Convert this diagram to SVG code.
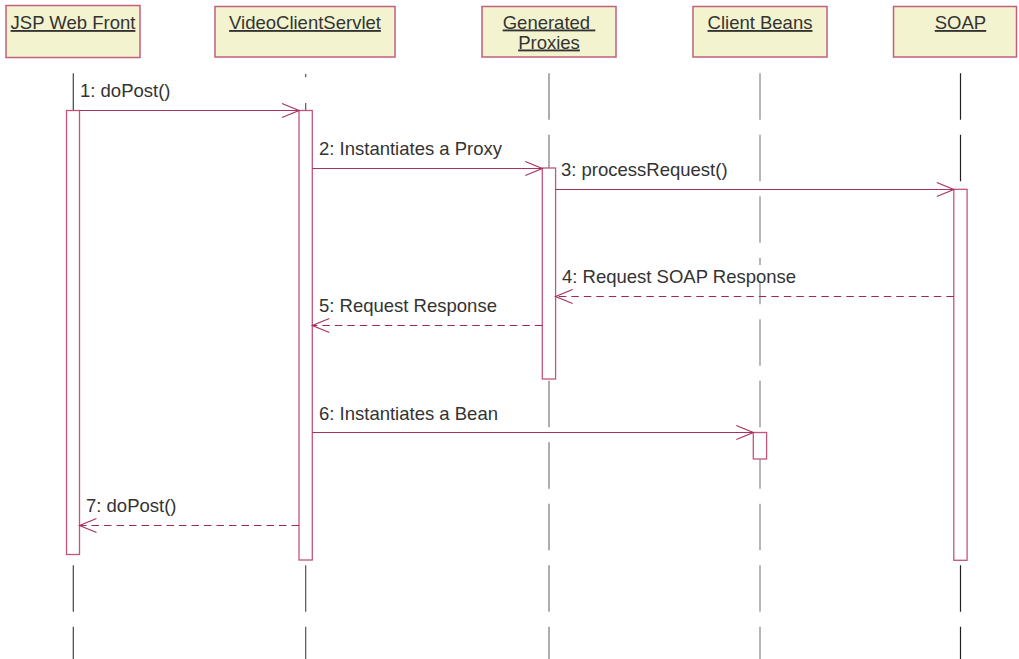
<svg xmlns="http://www.w3.org/2000/svg" width="1019" height="659" viewBox="0 0 1019 659">
<defs>
<style>
.box{fill:#f3f3d0;stroke:#c0607c;stroke-width:1.5}
.hdr text{font-family:"Liberation Sans",Arial,sans-serif;font-size:18.5px;fill:#333;text-anchor:middle;text-decoration:underline}
.life{stroke-width:1.2;stroke-dasharray:46.5 15;fill:none}
.act{fill:#fff;stroke:#c4547e;stroke-width:1.3}
.msg{stroke:#a8335f;stroke-width:1.2;fill:none;marker-end:url(#open)}
.dash{stroke-dasharray:7.5 5;stroke:#9c2a58}
.lbl{font-family:"Liberation Sans",Arial,sans-serif;font-size:18.5px;fill:#333}
.bg{fill:#fff}
</style>
<marker id="open" viewBox="-19 -9 21 18" markerWidth="21" markerHeight="18" refX="0" refY="0" orient="auto" markerUnits="userSpaceOnUse">
<path d="M-17,-7 L0,0 L-17,7" fill="none" stroke="#a8335f" stroke-width="1.2"/>
</marker>
<clipPath id="vcsclip"><rect x="290" y="103" width="30" height="560"/></clipPath>
</defs>
<rect width="1019" height="659" fill="#fff"/>

<g id="lifelines">
<line class="life" x1="73.3" y1="73.3" x2="73.3" y2="659" stroke="#444"/>
<line x1="305.7" y1="74" x2="305.7" y2="77.3" stroke="#555" stroke-width="1.2"/>
<line class="life" x1="305.7" y1="73.3" x2="305.7" y2="659" stroke="#555" clip-path="url(#vcsclip)"/>
<line class="life" x1="549" y1="73.3" x2="549" y2="659" stroke="#777"/>
<line class="life" x1="760" y1="73.3" x2="760" y2="659" stroke="#888"/>
<line class="life" x1="960.5" y1="73.3" x2="960.5" y2="659" stroke="#222"/>
</g>

<g id="jsp" class="hdr">
<rect class="box" x="6" y="5.5" width="134" height="52"/>
<text x="73" y="29">JSP Web Front</text>
<rect class="act" x="66.5" y="110.5" width="13" height="444"/>
</g>
<g id="servlet" class="hdr">
<rect class="box" x="215" y="6.5" width="180" height="50.5"/>
<text x="305" y="29">VideoClientServlet</text>
<rect class="act" x="299" y="110.5" width="13.3" height="449.5"/>
</g>
<g id="proxies" class="hdr">
<rect class="box" x="482" y="6.5" width="134" height="50.5"/>
<text x="549" y="28.5" xml:space="preserve">Generated </text>
<text x="549" y="48.5">Proxies</text>
<rect class="act" x="542.3" y="168" width="13.3" height="211"/>
</g>
<g id="beans" class="hdr">
<rect class="box" x="693" y="6.5" width="134" height="50.5"/>
<text x="760" y="29">Client Beans</text>
<rect class="act" x="753.3" y="432.5" width="13.3" height="26.5"/>
</g>
<g id="soap" class="hdr">
<rect class="box" x="893.5" y="6.5" width="123" height="50.5"/>
<text x="960.5" y="29">SOAP</text>
<rect class="act" x="953.8" y="189.3" width="13.3" height="371"/>
</g>

<g id="connectors">
<line class="msg" x1="79.5" y1="110.5" x2="299" y2="110.5"/>
<line class="msg" x1="312.3" y1="168.5" x2="542.3" y2="168.5"/>
<line class="msg" x1="555.6" y1="189.5" x2="953.8" y2="189.5"/>
<rect class="bg" x="560" y="265" width="240" height="16.7"/>
<line class="msg dash" x1="953.8" y1="296.5" x2="555.6" y2="296.5"/>
<line class="msg dash" x1="542.3" y1="325.5" x2="312.3" y2="325.5"/>
<line class="msg" x1="312.3" y1="432.5" x2="753.3" y2="432.5"/>
<line class="msg dash" x1="299" y1="525.5" x2="79.5" y2="525.5"/>
</g>

<g id="labels">
<text class="lbl" x="80" y="96.5">1: doPost()</text>
<text class="lbl" x="319" y="155">2: Instantiates a Proxy</text>
<text class="lbl" x="561" y="176">3: processRequest()</text>
<text class="lbl" x="562" y="283">4: Request SOAP Response</text>
<text class="lbl" x="319" y="312">5: Request Response</text>
<text class="lbl" x="319" y="419.5">6: Instantiates a Bean</text>
<text class="lbl" x="86" y="512">7: doPost()</text>
</g>
</svg>
